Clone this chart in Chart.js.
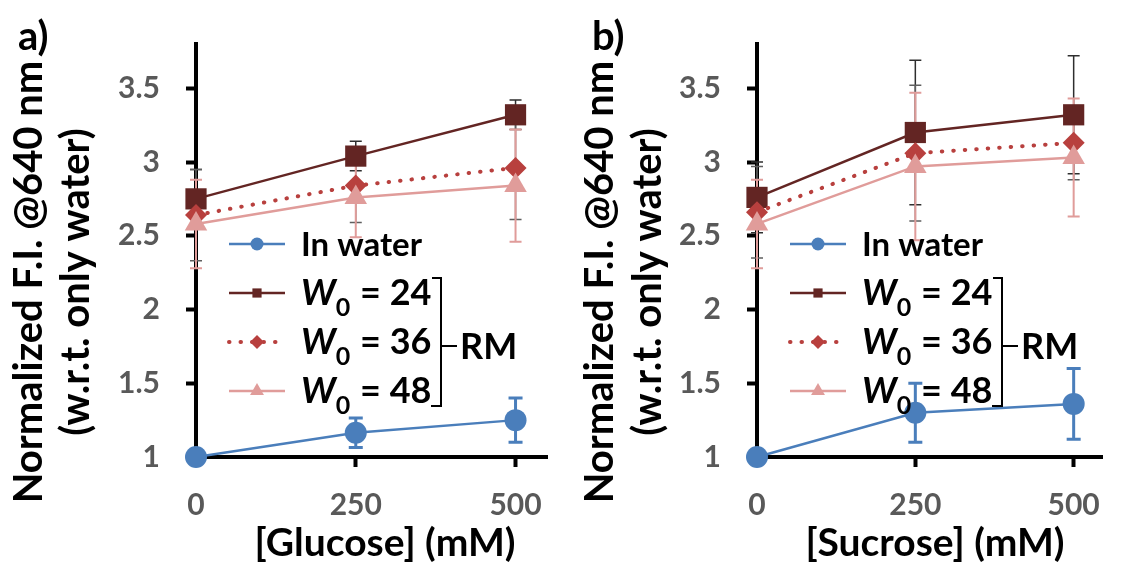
<!DOCTYPE html>
<html>
<head>
<meta charset="utf-8">
<script src="https://cdn.jsdelivr.net/npm/chart.js@4.4.1/dist/chart.umd.min.js"></script>
<style>
  html, body { margin: 0; padding: 0; background: #fff; overflow: hidden; }
  .panel { position: absolute; top: 0; height: 573px; }
  #panelA { left: 0; width: 563px; }
  #panelB { left: 560px; width: 561px; }
</style>
</head>
<body>
<div class="panel" id="panelA"><canvas id="glucoseChart"></canvas></div>
<div class="panel" id="panelB"><canvas id="sucroseChart"></canvas></div>
<script>
const concentrations = [0, 250, 500];
const xTicks = [0, 250, 500];
const yTicks = [1, 1.5, 2, 2.5, 3, 3.5];
const seriesNames = ["In water", "24", "36", "48"];

// glucose
const glucoseWater = [1.0, 1.165, 1.25];
const glucoseWaterErr = [0, 0.1, 0.15];
const glucoseW24 = [2.75, 3.04, 3.32];
const glucoseW24Err = [0.2, 0.1, 0.1];
const glucoseW36 = [2.64, 2.84, 2.96];
const glucoseW36Err = [0.31, 0.25, 0.35];
const glucoseW48 = [2.58, 2.76, 2.84];
const glucoseW48Err = [0.3, 0.27, 0.38];

// sucrose
const sucroseWater = [1.0, 1.3, 1.36];
const sucroseWaterErr = [0, 0.2, 0.24];
const sucroseW24 = [2.76, 3.2, 3.32];
const sucroseW24Err = [0.24, 0.49, 0.4];
const sucroseW36 = [2.66, 3.06, 3.13];
const sucroseW36Err = [0.31, 0.46, 0.25];
const sucroseW48 = [2.58, 2.97, 3.03];
const sucroseW48Err = [0.3, 0.5, 0.4];

const FONT = "Lato";

const seriesStyles = [
  { color: "#4a7ebb", errColor: "#4a7ebb", errWidth: 3, cap: 7, pointStyle: "circle", radius: 11, legendRadius: 6.5, dash: [], order: 3 },
  { color: "#632523", errColor: "#2e2e2e", errWidth: 1.5, cap: 6, pointStyle: "rect", radius: 15, legendRadius: 6.5, dash: [], order: 2 },
  { color: "#b8403e", errColor: "#5e5e5e", errWidth: 1.5, cap: 6, pointStyle: "rectRot", radius: 11, legendRadius: 7, dash: [0.5, 11], order: 1 },
  { color: "#e09c9a", errColor: "#e09c9a", errWidth: 2, cap: 6, pointStyle: "triangle", radius: 13, legendRadius: 8, dash: [], order: 0 },
];

const errorBars = {
  id: "errorBars",
  beforeDatasetsDraw(chart) {
    const ctx = chart.ctx;
    const yScale = chart.scales.y;
    chart.data.datasets.forEach((ds, i) => {
      const meta = chart.getDatasetMeta(i);
      ctx.save();
      ctx.strokeStyle = ds.errColor;
      ctx.lineWidth = ds.errWidth;
      meta.data.forEach((pt, j) => {
        const err = ds.errors[j];
        if (!err) return;
        const v = ds.data[j].y;
        const top = yScale.getPixelForValue(v + err);
        const bot = yScale.getPixelForValue(v - err);
        ctx.beginPath();
        ctx.moveTo(pt.x, top);
        ctx.lineTo(pt.x, bot);
        ctx.moveTo(pt.x - ds.cap, top);
        ctx.lineTo(pt.x + ds.cap, top);
        ctx.moveTo(pt.x - ds.cap, bot);
        ctx.lineTo(pt.x + ds.cap, bot);
        ctx.stroke();
      });
      ctx.restore();
    });
  },
};

function drawMarker(ctx, style, r, x, y) {
  ctx.beginPath();
  if (style === "circle") {
    ctx.arc(x, y, r, 0, Math.PI * 2);
  } else if (style === "rect") {
    const s = r * Math.SQRT1_2;
    ctx.rect(x - s, y - s, 2 * s, 2 * s);
  } else if (style === "rectRot") {
    ctx.moveTo(x - r, y);
    ctx.lineTo(x, y - r);
    ctx.lineTo(x + r, y);
    ctx.lineTo(x, y + r);
    ctx.closePath();
  } else {
    const a = (2 * Math.PI) / 3;
    ctx.moveTo(x, y - r);
    ctx.lineTo(x + Math.sin(a) * r, y - Math.cos(a) * r);
    ctx.lineTo(x + Math.sin(2 * a) * r, y - Math.cos(2 * a) * r);
    ctx.closePath();
  }
  ctx.fill();
}

// axis titles, panel letter, legend and the RM bracket
const panelText = {
  id: "panelText",
  afterDraw(chart, args, o) {
    const ctx = chart.ctx;
    const left = chart.chartArea.left;
    ctx.save();
    ctx.fillStyle = "#000";

    // y title, two rotated lines
    ctx.font = `bold 40px ${FONT}`;
    ctx.textAlign = "center";
    ctx.textBaseline = "alphabetic";
    o.yTitle.forEach((line, i) => {
      ctx.save();
      ctx.translate(o.yTitleX[i], 282);
      ctx.rotate(-Math.PI / 2);
      ctx.fillText(line, 0, 0);
      ctx.restore();
    });

    // x title
    ctx.font = `bold 39px ${FONT}`;
    ctx.fillText(o.xTitle, o.xTitleX, 556);

    // panel letter
    ctx.textAlign = "left";
    ctx.font = `bold 40px ${FONT}`;
    ctx.fillText(o.label, o.labelX, 50);

    // legend
    const rows = [244, 293, 342, 391];
    chart.data.datasets.forEach((ds, i) => {
      const st = seriesStyles[i];
      const y = rows[i];
      ctx.save();
      ctx.strokeStyle = st.color;
      ctx.lineWidth = st.dash.length ? 4 : 2.5;
      ctx.lineCap = st.dash.length ? "round" : "butt";
      ctx.setLineDash(st.dash);
      ctx.beginPath();
      ctx.moveTo(left + 33, y);
      ctx.lineTo(left + 89, y);
      ctx.stroke();
      ctx.restore();
      ctx.fillStyle = st.color;
      drawMarker(ctx, st.pointStyle, st.legendRadius, left + 61, y);

      ctx.fillStyle = "#000";
      const tx = left + 105;
      const bl = y + 12;
      if (i === 0) {
        ctx.font = `bold 33px ${FONT}`;
        ctx.fillText(seriesNames[0], tx, bl);
      } else {
        ctx.font = `italic bold 36px ${FONT}`;
        ctx.fillText("W", tx, bl);
        const wW = ctx.measureText("W").width;
        ctx.font = `bold 25px ${FONT}`;
        ctx.fillText("0", tx + wW, bl + 11);
        const w0 = ctx.measureText("0").width;
        ctx.font = `bold 36px ${FONT}`;
        ctx.fillText(" = " + seriesNames[i], tx + wW + w0 + 1, bl);
      }
    });

    // bracket grouping the RM series
    const bx = left + 245;
    ctx.strokeStyle = "#000";
    ctx.lineWidth = 2;
    ctx.beginPath();
    ctx.moveTo(bx - 9, 278);
    ctx.lineTo(bx, 278);
    ctx.lineTo(bx, 406);
    ctx.lineTo(bx - 10, 406);
    ctx.moveTo(bx, 346);
    ctx.lineTo(bx + 16, 346);
    ctx.stroke();
    ctx.font = `bold 36px ${FONT}`;
    ctx.fillText("RM", bx + 19, 359);
    ctx.restore();
  },
};

function tickFont() {
  return { family: FONT, size: 30, weight: "bold" };
}

function buildPanel(p) {
  const datasets = p.series.map((vals, i) => {
    const st = seriesStyles[i];
    return {
      label: seriesNames[i],
      data: concentrations.map((c, j) => ({ x: c, y: vals[j] })),
      errors: p.errors[i],
      errColor: st.errColor,
      errWidth: st.errWidth,
      cap: st.cap,
      borderColor: st.color,
      backgroundColor: st.color,
      borderWidth: st.dash.length ? 4 : 2.5,
      borderDash: st.dash,
      borderCapStyle: st.dash.length ? "round" : "butt",
      pointStyle: st.pointStyle,
      pointRadius: st.radius,
      pointBackgroundColor: st.color,
      pointBorderColor: st.color,
      pointBorderWidth: 0,
      pointHoverRadius: st.radius,
      tension: 0,
      clip: false,
      order: st.order,
    };
  });

  const axisGrid = {
    drawOnChartArea: false,
    drawTicks: true,
    tickLength: 10,
    tickWidth: 4,
    tickColor: "#000",
  };
  const axisBorder = { display: true, color: "#000", width: 4 };

  new Chart(document.getElementById(p.canvasId), {
    type: "line",
    data: { datasets },
    plugins: [errorBars, panelText],
    options: {
      responsive: true,
      maintainAspectRatio: false,
      animation: false,
      layout: { padding: { left: 0, right: 0, top: 25, bottom: 0 } },
      plugins: {
        legend: { display: false },
        tooltip: { enabled: false },
        panelText: {
          yTitle: ["Normalized F.I. @640 nm", "(w.r.t. only water)"],
          yTitleX: p.yTitleX,
          xTitle: p.xTitle,
          xTitleX: p.xTitleX,
          label: p.label,
          labelX: p.labelX,
        },
      },
      scales: {
        x: {
          type: "linear",
          min: 0,
          max: p.xMax,
          afterBuildTicks: (s) => {
            s.ticks = xTicks.map((v) => ({ value: v }));
          },
          afterFit: (s) => {
            s.height = 116;
          },
          ticks: {
            color: "#595959",
            font: tickFont(),
            padding: 20,
            maxRotation: 0,
            callback: (v) => String(v),
          },
          grid: axisGrid,
          border: axisBorder,
        },
        y: {
          type: "linear",
          min: 1,
          max: 3.8,
          afterBuildTicks: (s) => {
            s.ticks = yTicks.map((v) => ({ value: v }));
          },
          afterFit: (s) => {
            s.width = p.axisLeft;
          },
          ticks: {
            color: "#595959",
            font: tickFont(),
            padding: 26,
            callback: (v) => String(v),
          },
          grid: axisGrid,
          border: axisBorder,
        },
      },
    },
  });
}

const panels = [
  {
    canvasId: "glucoseChart",
    label: "a)",
    labelX: 18,
    xTitle: "[Glucose] (mM)",
    xTitleX: 385,
    xMax: 550,
    axisLeft: 196,
    yTitleX: [42, 89],
    series: [glucoseWater, glucoseW24, glucoseW36, glucoseW48],
    errors: [glucoseWaterErr, glucoseW24Err, glucoseW36Err, glucoseW48Err],
  },
  {
    canvasId: "sucroseChart",
    label: "b)",
    labelX: 32,
    xTitle: "[Sucrose] (mM)",
    xTitleX: 375,
    xMax: 545,
    axisLeft: 197,
    yTitleX: [53, 101],
    series: [sucroseWater, sucroseW24, sucroseW36, sucroseW48],
    errors: [sucroseWaterErr, sucroseW24Err, sucroseW36Err, sucroseW48Err],
  },
];

Promise.all([
  document.fonts.load(`bold 36px ${FONT}`),
  document.fonts.load(`italic bold 36px ${FONT}`),
]).catch(() => {}).then(() => panels.forEach(buildPanel));
</script>
</body>
</html>
